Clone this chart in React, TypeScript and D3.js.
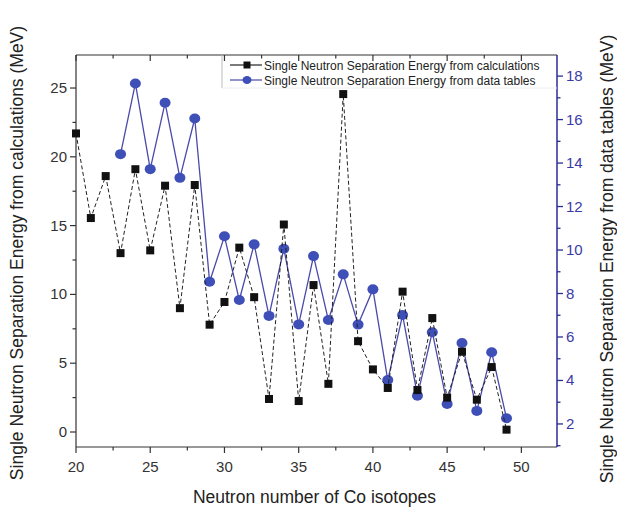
import React from "react";
import * as d3 from "d3";

const neutrons = [20,21,22,23,24,25,26,27,28,29,30,31,32,33,34,35,36,37,38,39,40,41,42,43,44,45,46,47,48,49];
const calcValues = [21.7,15.55,18.6,13.0,19.1,13.2,17.9,9.0,17.95,7.8,9.45,13.4,9.8,2.4,15.08,2.25,10.68,3.5,24.56,6.6,4.55,3.2,10.2,3.05,8.28,2.5,5.84,2.35,4.72,0.17];
const tableNeutrons = [23,24,25,26,27,28,29,30,31,32,33,34,35,36,37,38,39,40,41,42,43,44,45,46,47,48,49];
const tableValues = [14.41,17.66,13.72,16.77,13.32,16.05,8.54,10.63,7.7,10.26,6.97,10.06,6.58,9.72,6.78,8.88,6.57,8.19,4.02,7.01,3.3,6.22,2.92,5.72,2.6,5.3,2.26];
const xTicks = [20,25,30,35,40,45,50];
const leftTicks = [0,5,10,15,20,25];
const rightTicks = [2,4,6,8,10,12,14,16,18];
const legendLabels = ["Single Neutron Separation Energy from calculations", "Single Neutron Separation Energy from data tables"];
const xTitle = "Neutron number of Co isotopes";
const leftTitle = "Single Neutron Separation Energy from calculations (MeV)";
const rightTitle = "Single Neutron Separation Energy from data tables (MeV)";

const W = 617, H = 516;
const L = 76, R = 557, T = 55, B = 447;
const BLUE = "#3f4fb8";
const BLUE_LINE = "#4a4aaa";
const BLUE_AXIS = "#2c2c96";
const FONT = "Liberation Sans, Arial, sans-serif";

export default function App() {
  const x = d3.scaleLinear().domain([20, 52.4]).range([L, R]);
  const yL = d3.scaleLinear().domain([-1.09, 27.4]).range([B, T]);
  const yR = d3.scaleLinear().domain([0.94, 18.97]).range([B, T]);

  const calcPts = neutrons.map((n, i) => [x(n), yL(calcValues[i])] as [number, number]);
  const tabPts = tableNeutrons.map((n, i) => [x(n), yR(tableValues[i])] as [number, number]);
  const line = d3.line();

  const xMinor = d3.range(22.5, 52.4, 5);
  const lMinor = d3.range(2.5, 27.4, 5);
  const rMinor = d3.range(1, 18.97, 2);

  return (
    <svg width={W} height={H} style={{ position: "absolute", left: 0, top: 0, background: "#fff" }} fontFamily={FONT}>
      <rect x={0} y={0} width={W} height={H} fill="#fff" />
      {/* frame */}
      <line x1={L} x2={R} y1={T} y2={T} stroke="#333" strokeWidth={1.2} />
      <line x1={L} x2={R} y1={B} y2={B} stroke="#333" strokeWidth={1.2} />
      <line x1={L} x2={L} y1={T} y2={B} stroke="#333" strokeWidth={1.2} />
      <line x1={R} x2={R} y1={T} y2={B} stroke={BLUE_AXIS} strokeWidth={1.5} />

      {/* bottom axis ticks */}
      {xTicks.map(t => (
        <g key={"xt" + t}>
          <line x1={x(t)} x2={x(t)} y1={B} y2={B + 6} stroke="#333" strokeWidth={1.2} />
          <line x1={x(t)} x2={x(t)} y1={T} y2={T + 6} stroke="#333" strokeWidth={1.2} />
          <text x={x(t)} y={B + 25} textAnchor="middle" fontSize={15} fill="#333">{t}</text>
        </g>
      ))}
      {xMinor.map(t => (
        <g key={"xm" + t}>
          <line x1={x(t)} x2={x(t)} y1={B} y2={B + 3.5} stroke="#333" strokeWidth={1.2} />
          <line x1={x(t)} x2={x(t)} y1={T} y2={T + 3.5} stroke="#333" strokeWidth={1.2} />
        </g>
      ))}
      <text x={(L + R) / 2 - 2} y={503} textAnchor="middle" fontSize={17.5} fill="#222">{xTitle}</text>

      {/* left axis */}
      {leftTicks.map(t => (
        <g key={"lt" + t}>
          <line x1={L - 6} x2={L} y1={yL(t)} y2={yL(t)} stroke="#333" strokeWidth={1.2} />
          <text x={L - 9} y={yL(t) + 5} textAnchor="end" fontSize={15} fill="#333">{t}</text>
        </g>
      ))}
      {lMinor.map(t => (
        <line key={"lm" + t} x1={L - 3.5} x2={L} y1={yL(t)} y2={yL(t)} stroke="#333" strokeWidth={1.2} />
      ))}
      <text transform={`translate(23,${(T + B) / 2 + 2}) rotate(-90)`} textAnchor="middle" fontSize={17.5} fill="#222">{leftTitle}</text>

      {/* right axis */}
      {rightTicks.map(t => (
        <g key={"rt" + t}>
          <line x1={R} x2={R + 6} y1={yR(t)} y2={yR(t)} stroke={BLUE_AXIS} strokeWidth={1.3} />
          <text x={R + 9} y={yR(t) + 5} textAnchor="start" fontSize={15} fill="#3a3aa6">{t}</text>
        </g>
      ))}
      {rMinor.map(t => (
        <line key={"rm" + t} x1={R} x2={R + 3.5} y1={yR(t)} y2={yR(t)} stroke={BLUE_AXIS} strokeWidth={1.3} />
      ))}
      <text transform={`translate(613,${(T + B) / 2 + 8}) rotate(-90)`} textAnchor="middle" fontSize={17.5} fill="#222">{rightTitle}</text>

      {/* blue series */}
      <path d={line(tabPts) || ""} fill="none" stroke={BLUE_LINE} strokeWidth={1.3} />
      {tabPts.map((p, i) => (
        <ellipse key={"b" + i} cx={p[0]} cy={p[1]} rx={5.5} ry={5} fill={BLUE} />
      ))}

      {/* black series */}
      <path d={line(calcPts) || ""} fill="none" stroke="#222" strokeWidth={1} strokeDasharray="4,2.5" />
      {calcPts.map((p, i) => (
        <rect key={"k" + i} x={p[0] - 4} y={p[1] - 4} width={8} height={8} fill="#111" />
      ))}

      {/* legend */}
      <line x1={222} x2={222} y1={T} y2={88} stroke="#bbb" strokeWidth={1} />
      <line x1={222} x2={R} y1={88} y2={88} stroke="#eee" strokeWidth={1} />
      <line x1={230} x2={262} y1={65} y2={65} stroke="#222" strokeWidth={1.2} />
      <rect x={243.5} y={61.5} width={7} height={7} fill="#111" />
      <text x={264} y={69.5} fontSize={12} fill="#222">{legendLabels[0]}</text>
      <line x1={230} x2={262} y1={80} y2={80} stroke={BLUE_LINE} strokeWidth={1.2} />
      <ellipse cx={247} cy={80} rx={4.5} ry={4} fill={BLUE} />
      <text x={264} y={84.5} fontSize={12} fill="#222">{legendLabels[1]}</text>
    </svg>
  );
}
